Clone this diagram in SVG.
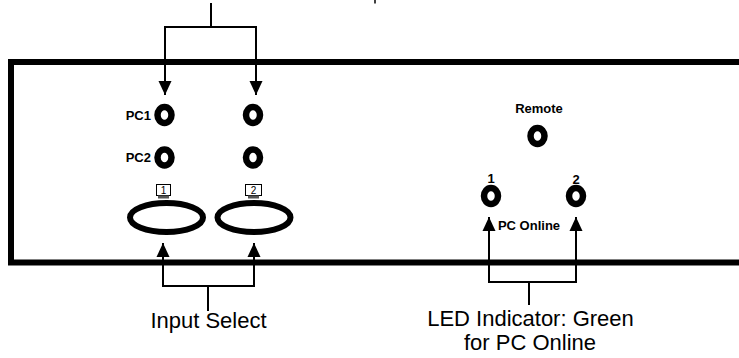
<svg xmlns="http://www.w3.org/2000/svg" width="739" height="358" viewBox="0 0 739 358">
<style>
.led{fill:none;stroke:#000;stroke-width:6.5}
.btn{fill:none;stroke:#000;stroke-width:6}
.lbl{font-family:"Liberation Sans",Arial,sans-serif;font-weight:bold;font-size:13px;fill:#000}
.cap{font-family:"Liberation Sans",Arial,sans-serif;font-size:22px;fill:#000;text-anchor:middle}
.conn{fill:none;stroke:#000;stroke-width:2}
.mon{fill:#fff;stroke:#000;stroke-width:1}
.monnum{font-family:"Liberation Sans",Arial,sans-serif;font-size:10px;fill:#000;text-anchor:middle}
</style>
<defs>
<marker id="arr" markerUnits="userSpaceOnUse" markerWidth="14" markerHeight="14" viewBox="0 0 14 14" refX="14" refY="7" orient="auto-start-reverse">
<path d="M0,0.5 L14,7 L0,13.5 z" fill="#000"/>
</marker>
</defs>
<rect width="739" height="358" fill="#fff"/>
<g id="panel">
<path d="M739,62 H11 V262.5 H739" fill="none" stroke="#000" stroke-width="6"/>
</g>
<g id="top-fragment"><path d="M375,0 V3.5" stroke="#000" stroke-width="1.5"/></g>
<g id="pc1-led-1"><ellipse class="led" cx="164.5" cy="115" rx="7" ry="8"/><text class="lbl" x="151" y="119.5" text-anchor="end">PC1</text></g>
<g id="pc1-led-2"><ellipse class="led" cx="253" cy="115" rx="7" ry="8"/></g>
<g id="pc2-led-1"><ellipse class="led" cx="164.5" cy="157.5" rx="7" ry="8"/><text class="lbl" x="151" y="162" text-anchor="end">PC2</text></g>
<g id="pc2-led-2"><ellipse class="led" cx="253" cy="157.5" rx="7" ry="8"/></g>
<g id="button-1">
<rect class="mon" x="156.5" y="184.5" width="14" height="11"/>
<rect x="158" y="195.5" width="11" height="3" fill="#555"/>
<text class="monnum" x="163.5" y="194">1</text>
<ellipse class="btn" cx="166.5" cy="217.5" rx="36.5" ry="14.5"/>
</g>
<g id="button-2">
<rect class="mon" x="245.5" y="184.5" width="16" height="11"/>
<rect x="248" y="195.5" width="11" height="3" fill="#555"/>
<text class="monnum" x="253.5" y="194">2</text>
<ellipse class="btn" cx="254" cy="217.5" rx="36.5" ry="14.5"/>
</g>
<g id="remote"><text class="lbl" x="539" y="112.5" text-anchor="middle">Remote</text><ellipse class="led" cx="537.5" cy="136" rx="7" ry="8"/></g>
<g id="online-1"><text class="lbl" x="491" y="183" text-anchor="middle">1</text><ellipse class="led" cx="491" cy="196" rx="7" ry="8"/></g>
<g id="online-2"><text class="lbl" x="576" y="184" text-anchor="middle">2</text><ellipse class="led" cx="576" cy="196" rx="7" ry="8"/></g>
<g id="pc-online-label"><text class="lbl" x="529" y="230" text-anchor="middle" font-size="12">PC Online</text></g>
<g id="connectors">
<path class="conn" d="M211,3 V27"/>
<path class="conn" d="M165,95 V27 H256 V95" marker-start="url(#arr)" marker-end="url(#arr)"/>
<path class="conn" d="M163,243 V286 H254 V243" marker-start="url(#arr)" marker-end="url(#arr)"/>
<path class="conn" d="M208,286 V311"/>
<path class="conn" d="M489,217 V282 H576 V217" marker-start="url(#arr)" marker-end="url(#arr)"/>
<path class="conn" d="M529,282 V305"/>
</g>
<g id="input-select-label"><text class="cap" x="208.5" y="328">Input Select</text></g>
<g id="led-indicator-label"><text class="cap" x="530.5" y="326">LED Indicator: Green</text><text class="cap" x="530" y="350">for PC Online</text></g>
</svg>
